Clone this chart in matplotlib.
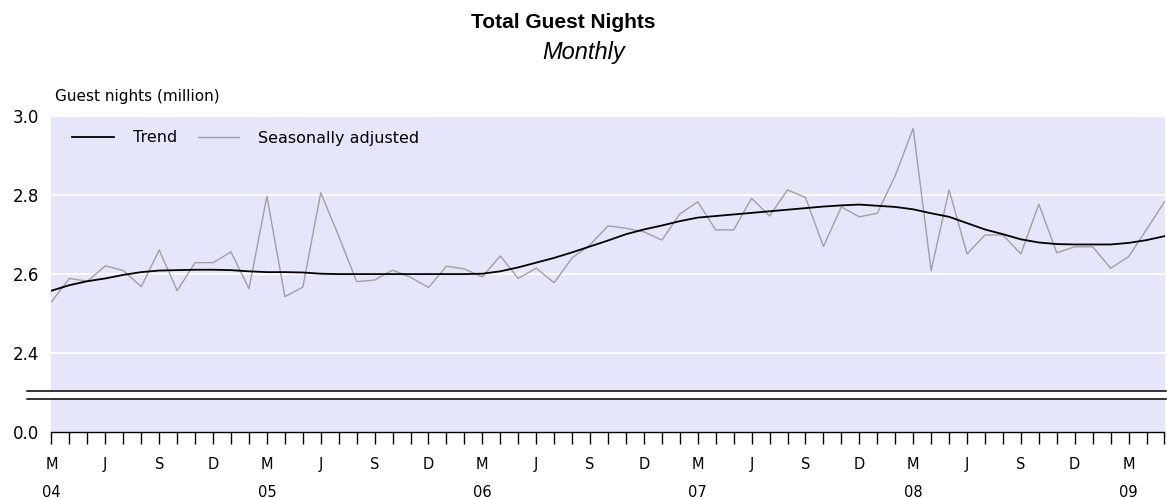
import matplotlib
matplotlib.use("Agg")
import matplotlib.pyplot as plt
from matplotlib.lines import Line2D
from matplotlib.ticker import FixedLocator

# ---- data (monthly, Mar 2004 .. May 2009) ----
month_index = list(range(63))
trend = [2.557, 2.571, 2.581, 2.588, 2.597, 2.604, 2.608, 2.609, 2.610, 2.610,
         2.609, 2.606, 2.604, 2.604, 2.603, 2.600, 2.599, 2.599, 2.599, 2.599,
         2.599, 2.599, 2.599, 2.599, 2.600, 2.606, 2.616, 2.628, 2.640, 2.654,
         2.669, 2.684, 2.700, 2.712, 2.722, 2.733, 2.742, 2.746, 2.750, 2.754,
         2.758, 2.762, 2.766, 2.770, 2.773, 2.775, 2.772, 2.769, 2.763, 2.753,
         2.744, 2.728, 2.712, 2.700, 2.687, 2.679, 2.675, 2.674, 2.674, 2.674,
         2.678, 2.685, 2.695]
seas_adj = [2.529, 2.588, 2.581, 2.620, 2.608, 2.567, 2.660, 2.557, 2.628, 2.628,
            2.655, 2.562, 2.796, 2.542, 2.566, 2.805, 2.695, 2.580, 2.584, 2.609,
            2.591, 2.565, 2.619, 2.612, 2.592, 2.645, 2.588, 2.614, 2.577, 2.640,
            2.673, 2.721, 2.715, 2.706, 2.685, 2.751, 2.782, 2.711, 2.711, 2.791,
            2.746, 2.812, 2.793, 2.669, 2.769, 2.744, 2.753, 2.848, 2.968, 2.608,
            2.812, 2.650, 2.698, 2.698, 2.650, 2.776, 2.653, 2.668, 2.668, 2.614,
            2.643, 2.712, 2.782]
month_letters = ["M", "J", "S", "D"]
years = ["04", "05", "06", "07", "08", "09"]
upper_yticks = [2.4, 2.6, 2.8, 3.0]
lower_yticks = [0.0]

# ---- layout helpers (pixels) ----
W, H = 1167, 499
def fx(px): return px / W
def fy(py): return 1 - py / H

BG = "#E6E6FA"
fig = plt.figure(figsize=(W / 100, H / 100), dpi=100)

left, right = 51.5, 1164.5
top, brk1, brk2, bottom = 115.7, 390.7, 398.7, 431.7
px_per_unit = 395.0

ax = fig.add_axes([fx(left), fy(brk1), fx(right - left), (brk1 - top) / H])
ax2 = fig.add_axes([fx(left), fy(bottom), fx(right - left), (bottom - brk2) / H])

for a in (ax, ax2):
    a.set_facecolor(BG)
    a.set_xlim(0, 62)
    for s in a.spines.values():
        s.set_visible(False)

ax.set_ylim(3.0 - (brk1 - top) / px_per_unit, 3.0)
ax2.set_ylim(0, (bottom - brk2) / px_per_unit)

# upper axes
ax.plot(month_index, seas_adj, color="#A0A0A0", lw=1.0, label="Seasonally adjusted", zorder=3)
ax.plot(month_index, trend, color="black", lw=1.3, label="Trend", zorder=4)
ax.set_yticks(upper_yticks)
ax.set_yticklabels([f"{v:.1f}" for v in upper_yticks])
ax.yaxis.grid(True, color="white", lw=1.3)
ax.set_axisbelow(True)
ax.tick_params(axis="y", length=0, pad=9, labelsize=12)
ax.set_xticks([])

# lower axes
ax2.set_yticks(lower_yticks)
ax2.set_yticklabels([f"{v:.1f}" for v in lower_yticks])
ax2.tick_params(axis="y", length=0, pad=9, labelsize=12)
ax2.spines["bottom"].set_visible(True)
ax2.spines["bottom"].set_color("black")
ax2.spines["bottom"].set_linewidth(1.0)

major = list(range(0, 63, 3))
labels = []
for k, m in enumerate(major):
    letter = month_letters[k % 4]
    if letter == "M":
        labels.append(letter + "\n" + years[k // 4])
    else:
        labels.append(letter)
ax2.set_xticks(major)
ax2.set_xticklabels(labels)
ax2.xaxis.set_minor_locator(FixedLocator(month_index))
ax2.tick_params(axis="x", which="both", length=8.5, width=1.0, color="black",
                direction="out", pad=10, labelsize=10.5)
for t in ax2.get_xticklabels():
    t.set_linespacing(2.05)

# axis break lines
for yy in (brk1, brk2):
    fig.add_artist(Line2D([fx(27), fx(1166)], [fy(yy), fy(yy)], color="black", lw=1.1))

# legend
handles = [Line2D([], [], color="black", lw=1.3),
           Line2D([], [], color="#A0A0A0", lw=1.0)]
fig.legend(handles, ["Trend", "Seasonally adjusted"], loc="center left",
           bbox_to_anchor=(fx(72), fy(138)), bbox_transform=fig.transFigure,
           ncol=2, frameon=False, fontsize=11.5, handlelength=2.6,
           handletextpad=1.2, columnspacing=1.3, borderpad=0, borderaxespad=0)

# titles
fig.text(fx(563), fy(22), "Total Guest Nights", ha="center", va="center",
         fontsize=15, fontweight="bold", family="Liberation Sans")
fig.text(fx(584), fy(53), "Monthly", ha="center", va="center",
         fontsize=17, fontstyle="italic", family="Liberation Sans")
fig.text(fx(55), fy(96), "Guest nights (million)", ha="left", va="center", fontsize=11)

fig.savefig("out.png", dpi=100, facecolor="white")
